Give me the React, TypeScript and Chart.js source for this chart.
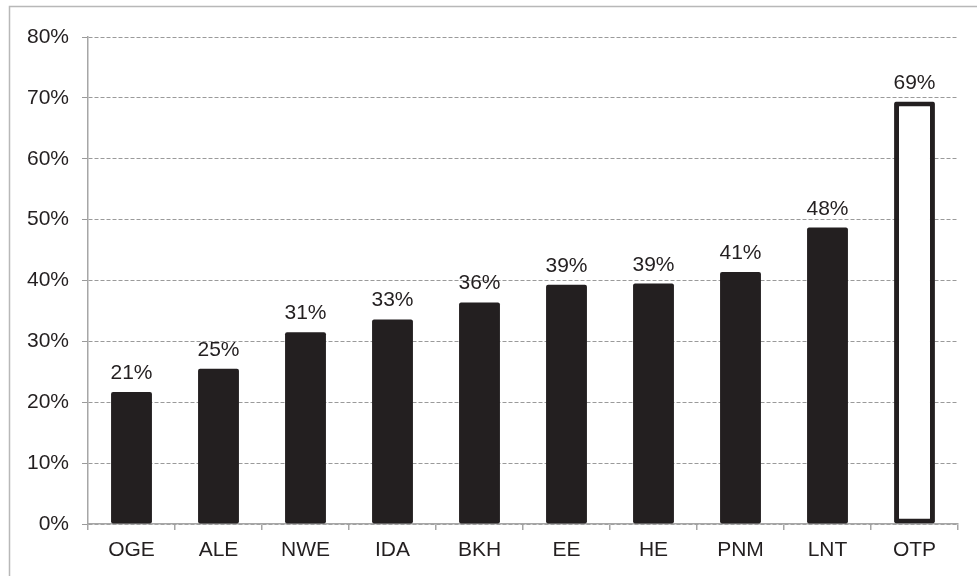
import React, { useEffect, useRef } from "react";
import { Chart, registerables } from "chart.js";

Chart.register(...registerables);

const categories = ["OGE", "ALE", "NWE", "IDA", "BKH", "EE", "HE", "PNM", "LNT", "OTP"];
const values = [21.7, 25.5, 31.5, 33.6, 36.4, 39.3, 39.5, 41.4, 48.7, 69.4];
const highlighted = [false, false, false, false, false, false, false, false, false, true];
const yTicks = [0, 10, 20, 30, 40, 50, 60, 70, 80];

const DARK = "#231f20";
const FONT = "'Liberation Sans', Arial, sans-serif";

const frame = {
  id: "frame",
  beforeDraw(chart: any) {
    const ctx = chart.ctx;
    ctx.save();
    ctx.fillStyle = "#ffffff";
    ctx.fillRect(0, 0, chart.width, chart.height);
    ctx.strokeStyle = "#b8b8b8";
    ctx.lineWidth = 1.5;
    ctx.beginPath();
    ctx.moveTo(9.5, chart.height);
    ctx.lineTo(9.5, 6.5);
    ctx.lineTo(chart.width, 6.5);
    ctx.stroke();
    ctx.restore();
  },
};

const valueLabels = {
  id: "valueLabels",
  afterDatasetsDraw(chart: any) {
    const ctx = chart.ctx;
    const meta = chart.getDatasetMeta(0);
    ctx.save();
    ctx.fillStyle = DARK;
    ctx.font = `21px ${FONT}`;
    ctx.textAlign = "center";
    ctx.textBaseline = "alphabetic";
    meta.data.forEach((el: any, i: number) => {
      const v = values[i];
      ctx.fillText(`${Math.floor(v)}%`, el.x, el.y - 13);
    });
    ctx.restore();
  },
};

export default function App() {
  const ref = useRef<HTMLCanvasElement>(null);
  useEffect(() => {
    if (!ref.current) return;
    const chart = new Chart(ref.current, {
      type: "bar",
      data: {
        labels: categories,
        datasets: [
          {
            data: values,
            backgroundColor: highlighted.map((h) => (h ? "#ffffff" : DARK)),
            borderColor: DARK,
            borderWidth: highlighted.map((h) => (h ? 5 : 0)),
            borderRadius: 2,
            borderSkipped: false,
            categoryPercentage: 1,
            barPercentage: 0.47,
          },
        ],
      },
      options: {
        responsive: false,
        animation: false,
        devicePixelRatio: 1,
        layout: { padding: { top: 37, right: 19, left: 0, bottom: 0 } },
        plugins: { legend: { display: false }, tooltip: { enabled: false } },
        scales: {
          x: {
            offset: true,
            grid: {
              display: true,
              drawOnChartArea: false,
              offset: true,
              tickLength: 6,
              color: "#a6a6a6",
              lineWidth: 1.5,
            },
            border: { color: "#a6a6a6", width: 1.5 },
            ticks: {
              color: DARK,
              font: { family: FONT, size: 21 },
              padding: 8,
              maxRotation: 0,
            },
            afterFit(scale: any) {
              scale.height = 52;
            },
          },
          y: {
            min: 0,
            max: 80,
            afterBuildTicks(scale: any) {
              scale.ticks = yTicks.map((v) => ({ value: v }));
            },
            grid: {
              color: "#9a9a9a",
              lineWidth: 1,
              tickLength: 6,
              tickColor: "#9a9a9a",
              tickBorderDash: [],
            },
            border: { color: "#a6a6a6", width: 1.5, dash: [4, 2] },
            ticks: {
              color: DARK,
              font: { family: FONT, size: 21 },
              padding: 13,
              callback: (v: any) => `${v}%`,
            },
            afterFit(scale: any) {
              scale.width = 88;
            },
          },
        },
      },
      plugins: [frame, valueLabels],
    });
    return () => chart.destroy();
  }, []);
  return (
    <div style={{ position: "absolute", left: 0, top: 0, width: 977, height: 576, background: "#fff" }}>
      <canvas ref={ref} width={977} height={576} style={{ display: "block" }} />
    </div>
  );
}
